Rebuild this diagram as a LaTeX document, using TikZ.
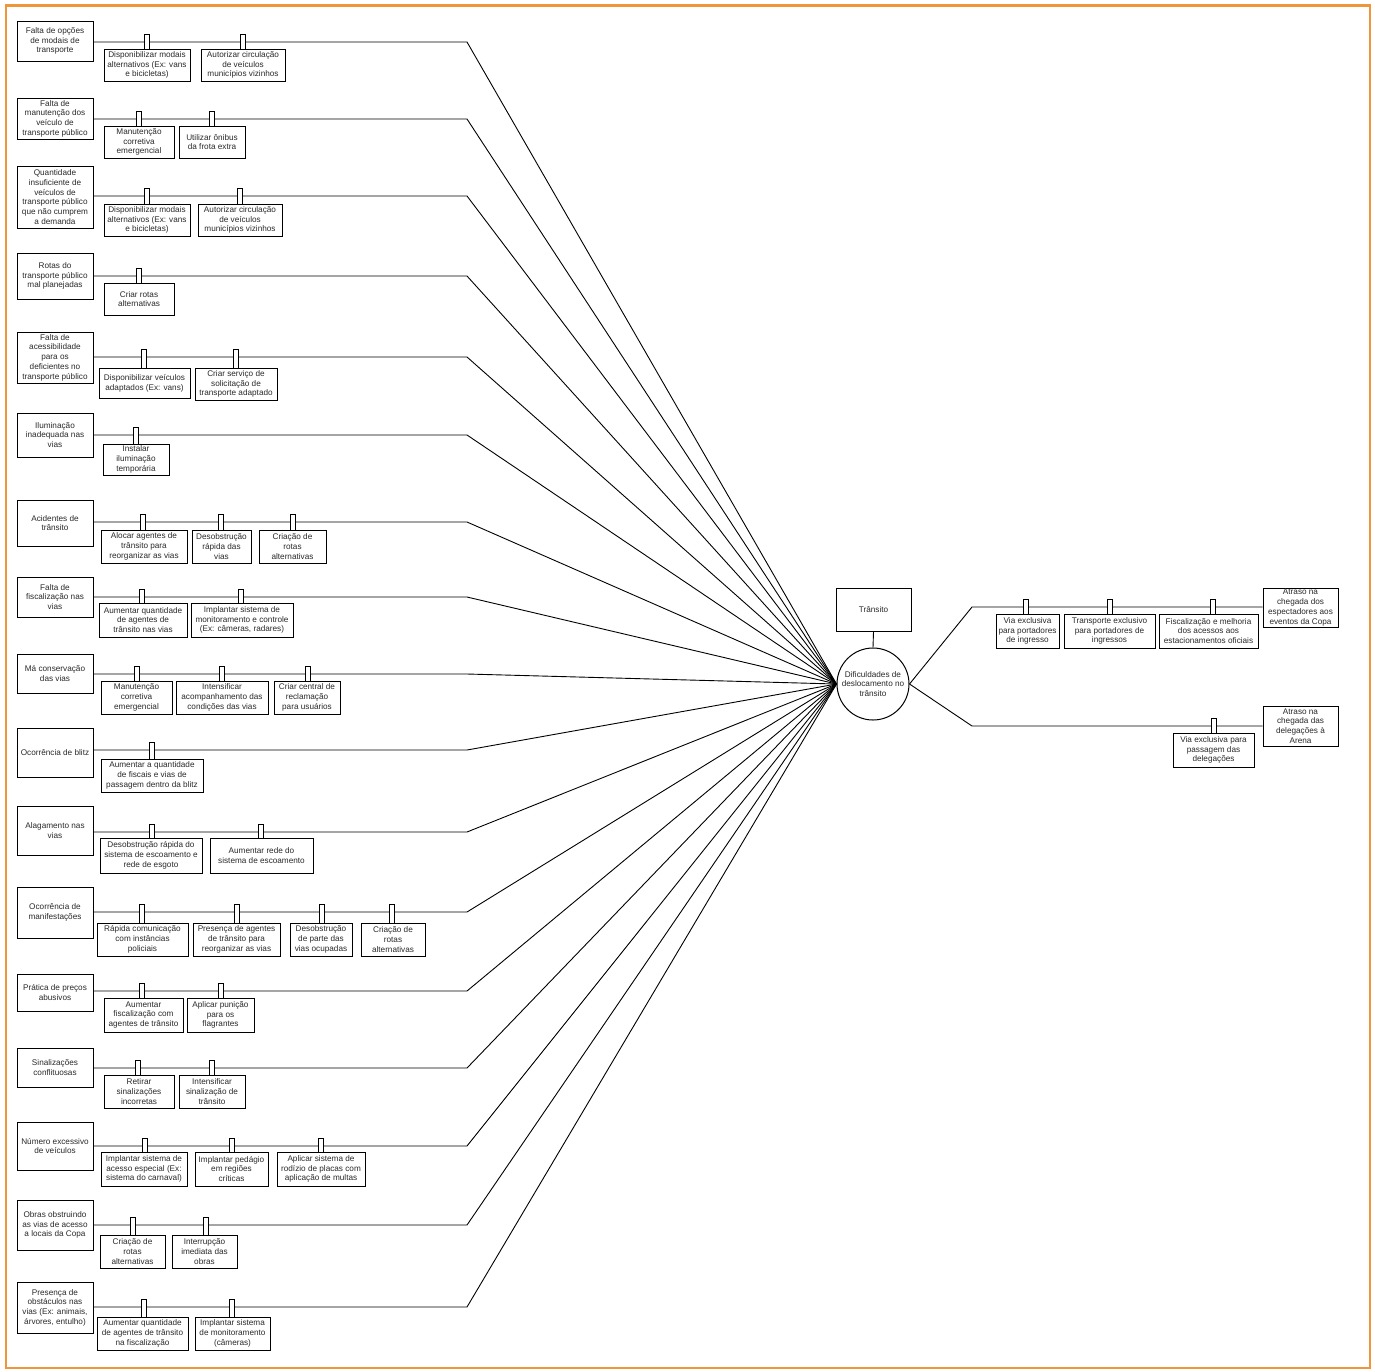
\documentclass[tikz,border=0pt]{standalone}
\usepackage{fontspec}
\setmainfont{Liberation Sans}
\definecolor{framecol}{HTML}{F0963A}
\definecolor{inkcol}{HTML}{2A2A2A}

% cause box on the left: name, top, bottom, line y, text
\newcommand{\causebox}[5]{%
  \node[causestyle, minimum height={(#3)-(#2)}] (#1) at (55,{((#2)+(#3))/2}) {#5};
  \coordinate (#1k) at (467,#4);
  \draw[link] (#1.east |- #1k) -- (#1k) -- (hubw);
}
% solution box hanging from a line: name, x1, x2, y1, y2, tab x, line y, text
\newcommand{\solbox}[8]{%
  \node[solstyle, minimum width={(#3)-(#2)}, minimum height={(#5)-(#4)}] (#1) at ({((#2)+(#3))/2},{((#4)+(#5))/2}) {#8};
  \node[tabstyle, minimum height={(#4)-(#7)+8}] (#1t) at (#6,{((#4)+(#7)-8)/2}) {};
}

\begin{document}
\begin{tikzpicture}[x=1pt,y=-1pt,
  every node/.style={font=\fontsize{8.2}{9.7}\selectfont, text=inkcol, align=center, inner sep=0pt},
  causestyle/.style={draw=black, line width=1pt, fill=white, minimum width=76pt},
  solstyle/.style={draw=black, line width=1pt, fill=white},
  tabstyle/.style={draw=black, line width=0.8pt, fill=white, minimum width=4.5pt},
  link/.style={draw=black, line width=0.9pt},
]
\useasboundingbox (0,0) rectangle (1375,1371);
\draw[framecol, line width=2.2pt] (6,5.5) rectangle (1370,1368);

% central problem and its theme
\node[draw=black, line width=1pt, circle, minimum size=72pt, fill=white] (hub) at (873,684) {Dificuldades de\\deslocamento no\\trânsito};
\coordinate (hubw) at (hub.west);
\node[draw=black, line width=1pt, minimum width=75pt, minimum height=43pt] (theme) at (873.5,609.5) {Trânsito};
\draw[link] (theme.south) -- (hub.north);

% causes
\causebox{c1}{21}{61}{42}{Falta de opções\\de modais de\\transporte}
\causebox{c2}{98}{139}{119}{Falta de\\manutenção dos\\veículo de\\transporte público}
\causebox{c3}{166}{228}{196}{Quantidade\\insuficiente de\\veículos de\\transporte público\\que não cumprem\\a demanda}
\causebox{c4}{253}{299}{276}{Rotas do\\transporte público\\mal planejadas}
\causebox{c5}{332}{383}{357}{Falta de\\acessibilidade\\para os\\deficientes no\\transporte público}
\causebox{c6}{413}{457}{435}{Iluminação\\inadequada nas\\vias}
\causebox{c7}{500}{546}{522}{Acidentes de\\trânsito}
\causebox{c8}{577}{617}{597}{Falta de\\fiscalização nas\\vias}
\causebox{c9}{654}{693}{674}{Má conservação\\das vias}
\causebox{c10}{728}{777}{750}{Ocorrência de blitz}
\causebox{c11}{806}{855}{832}{Alagamento nas\\vias}
\causebox{c12}{887}{938}{912}{Ocorrência de\\manifestações}
\causebox{c13}{974}{1011}{991}{Prática de preços\\abusivos}
\causebox{c14}{1048}{1087}{1068}{Sinalizações\\conflituosas}
\causebox{c15}{1122}{1170}{1146}{Número excessivo\\de veículos}
\causebox{c16}{1200}{1250}{1225}{Obras obstruindo\\as vias de acesso\\a locais da Copa}
\causebox{c17}{1282}{1333}{1307}{Presença de\\obstáculos nas\\vias (Ex: animais,\\árvores, entulho)}

% effects on the right
\node[causestyle, minimum width=75pt, minimum height=39pt] (e1) at (1300.5,607.5) {Atraso na\\chegada dos\\espectadores aos\\eventos da Copa};
\node[causestyle, minimum width=75pt, minimum height=40pt] (e2) at (1300.5,726) {Atraso na\\chegada das\\delegações à\\Arena};
\coordinate (e1k) at (972,607);
\coordinate (e2k) at (972,726);
\draw[link] (hub.east) -- (e1k) -- (e1.west |- e1k);
\draw[link] (hub.east) -- (e2k) -- (e2.west |- e2k);

% actions
\solbox{s1a}{104}{190}{49}{81}{147}{42}{Disponibilizar modais\\alternativos (Ex: vans\\e bicicletas)}
\solbox{s1b}{201}{285}{49}{81}{243}{42}{Autorizar circulação\\de veículos\\municípios vizinhos}
\solbox{s2a}{104}{174}{126}{158}{139}{119}{Manutenção\\corretiva\\emergencial}
\solbox{s2b}{179}{245}{126}{158}{212}{119}{Utilizar ônibus\\da frota extra}
\solbox{s3a}{104}{190}{204}{236}{147}{196}{Disponibilizar modais\\alternativos (Ex: vans\\e bicicletas)}
\solbox{s3b}{198}{282}{204}{236}{240}{196}{Autorizar circulação\\de veículos\\municípios vizinhos}
\solbox{s4a}{104}{174}{283}{315}{139}{276}{Criar rotas\\alternativas}
\solbox{s5a}{99}{190}{368}{398}{144}{357}{Disponibilizar veículos\\adaptados (Ex: vans)}
\solbox{s5b}{195}{277}{368}{400}{236}{357}{Criar serviço de\\solicitação de\\transporte adaptado}
\solbox{s6a}{103}{169}{444}{475}{136}{435}{Instalar\\iluminação\\temporária}
\solbox{s7a}{101}{187}{530}{563}{143}{522}{Alocar agentes de\\trânsito para\\reorganizar as vias}
\solbox{s7b}{192}{251}{530}{563}{221}{522}{Desobstrução\\rápida das\\vias}
\solbox{s7c}{259}{326}{530}{563}{293}{522}{Criação de\\rotas\\alternativas}
\solbox{s8a}{99}{187}{603}{637}{142}{597}{Aumentar quantidade\\de agentes de\\trânsito nas vias}
\solbox{s8b}{191}{293}{603}{637}{241}{597}{Implantar sistema de\\monitoramento e controle\\(Ex: câmeras, radares)}
\solbox{s9a}{101}{172}{681}{714}{137}{674}{Manutenção\\corretiva\\emergencial}
\solbox{s9b}{176}{268}{681}{714}{222}{674}{Intensificar\\acompanhamento das\\condições das vias}
\solbox{s9c}{274}{340}{681}{714}{308}{674}{Criar central de\\reclamação\\para usuários}
\solbox{s10a}{101}{203}{759}{792}{152}{750}{Aumentar a quantidade\\de fiscais e vias de\\passagem dentro da blitz}
\solbox{s11a}{100}{202}{838}{873}{152}{832}{Desobstrução rápida do\\sistema de escoamento e\\rede de esgoto}
\solbox{s11b}{210}{313}{838}{873}{261}{832}{Aumentar rede do\\sistema de escoamento}
\solbox{s12a}{97}{188}{923}{956}{142}{912}{Rápida comunicação\\com instâncias\\policiais}
\solbox{s12b}{193}{280}{923}{956}{237}{912}{Presença de agentes\\de trânsito para\\reorganizar as vias}
\solbox{s12c}{290}{352}{923}{956}{322}{912}{Desobstrução\\de parte das\\vias ocupadas}
\solbox{s12d}{361}{425}{923}{956}{392}{912}{Criação de\\rotas\\alternativas}
\solbox{s13a}{104}{183}{998}{1032}{142}{991}{Aumentar\\fiscalização com\\agentes de trânsito}
\solbox{s13b}{187}{254}{998}{1032}{221}{991}{Aplicar punição\\para os\\flagrantes}
\solbox{s14a}{104}{174}{1075}{1108}{138}{1068}{Retirar\\sinalizações\\incorretas}
\solbox{s14b}{179}{245}{1075}{1108}{212}{1068}{Intensificar\\sinalização de\\trânsito}
\solbox{s15a}{101}{187}{1152}{1186}{145}{1146}{Implantar sistema de\\acesso especial (Ex:\\sistema do carnaval)}
\solbox{s15b}{195}{268}{1152}{1186}{232}{1146}{Implantar pedágio\\em regiões\\críticas}
\solbox{s15c}{277}{365}{1152}{1186}{321}{1146}{Aplicar sistema de\\rodízio de placas com\\aplicação de multas}
\solbox{s16a}{100}{165}{1235}{1268}{133}{1225}{Criação de\\rotas\\alternativas}
\solbox{s16b}{172}{237}{1235}{1268}{206}{1225}{Interrupção\\imediata das\\obras}
\solbox{s17a}{97}{188}{1317}{1350}{144}{1307}{Aumentar quantidade\\de agentes de trânsito\\na fiscalização}
\solbox{s17b}{195}{270}{1317}{1350}{232}{1307}{Implantar sistema\\de monitoramento\\(câmeras)}

\solbox{r1a}{996}{1059}{614}{648}{1026}{607}{Via exclusiva\\para portadores\\de ingresso}
\solbox{r1b}{1064}{1155}{614}{648}{1110}{607}{Transporte exclusivo\\para portadores de\\ingressos}
\solbox{r1c}{1159}{1258}{614}{648}{1213}{607}{Fiscalização e melhoria\\dos acessos aos\\estacionamentos oficiais}
\solbox{r2a}{1173}{1254}{733}{767}{1214}{726}{Via exclusiva para\\passagem das\\delegações}
\end{tikzpicture}
\end{document}
